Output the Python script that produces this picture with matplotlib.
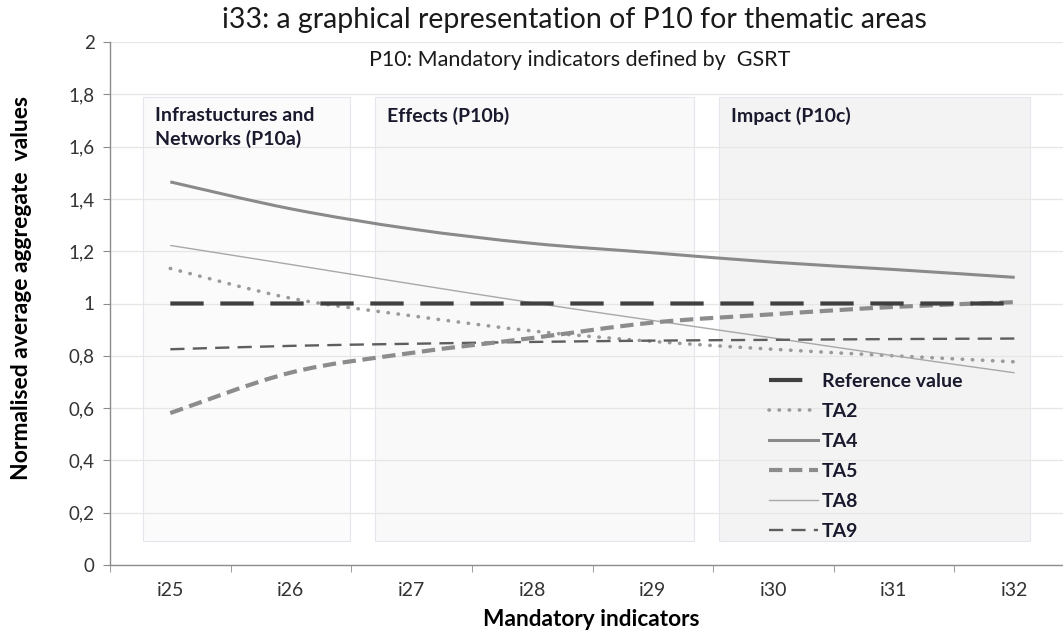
import matplotlib
matplotlib.use("Agg")
import matplotlib.pyplot as plt
from matplotlib.patches import Rectangle, PathPatch
from matplotlib.path import Path
from matplotlib.lines import Line2D
from matplotlib.ticker import FixedLocator, FuncFormatter

plt.rcParams['font.family'] = ['Lato', 'DejaVu Sans']

# ---------------- data ----------------
categories = ["i25", "i26", "i27", "i28", "i29", "i30", "i31", "i32"]
reference = [1.0, 1.0, 1.0, 1.0, 1.0, 1.0, 1.0, 1.0]
ta2 = [1.134, 1.02, 0.953, 0.895, 0.855, 0.825, 0.80, 0.777]
ta4 = [1.465, 1.362, 1.285, 1.230, 1.194, 1.158, 1.13, 1.10]
ta5 = [0.581, 0.736, 0.811, 0.868, 0.927, 0.959, 0.987, 1.005]
ta8 = [1.222, 1.149, 1.075, 1.003, 0.935, 0.868, 0.80, 0.735]
ta9 = [0.825, 0.838, 0.846, 0.853, 0.858, 0.861, 0.864, 0.866]
series_names = ["Reference value", "TA2", "TA4", "TA5", "TA8", "TA9"]
y_ticks = [0, 0.2, 0.4, 0.6, 0.8, 1.0, 1.2, 1.4, 1.6, 1.8, 2.0]

area_labels = ["Infrastuctures and\nNetworks (P10a)", "Effects (P10b)", "Impact (P10c)"]
area_spans = [(-0.228, 1.49), (1.70, 4.34), (4.55, 7.13)]
area_y = (0.092, 1.79)

W, H = 1063, 634
fig = plt.figure(figsize=(W / 100, H / 100), dpi=100)
ax = fig.add_axes([110 / W, 1 - 565 / H, 965 / W, 523 / H])

x = list(range(len(categories)))

# shaded thematic areas
fills = ["#fbfbfb", "#f9f9f9", "#f3f3f3"]
for (x0, x1), fc in zip(area_spans, fills):
    ax.add_patch(Rectangle((x0, area_y[0]), x1 - x0, area_y[1] - area_y[0],
                           facecolor=fc, edgecolor="#e3e6ec", lw=0.8, zorder=1))

for (x0, x1), lab in zip(area_spans, area_labels):
    ax.text(x0 + 0.1, 1.752, lab, fontsize=14, fontweight='bold', color="#1a1a2e",
            va='top', ha='left', linespacing=1.42, zorder=3)


def smooth_path(xs, ys):
    """Excel-style smoothed line: cubic Bezier through every data point."""
    pts = list(zip(xs, ys))
    n = len(pts)
    verts = [pts[0]]
    codes = [Path.MOVETO]
    for i in range(n - 1):
        p0 = pts[i - 1] if i > 0 else pts[i]
        p1 = pts[i]
        p2 = pts[i + 1]
        p3 = pts[i + 2] if i + 2 < n else pts[i + 1]
        c1 = (p1[0] + (p2[0] - p0[0]) / 6.0, p1[1] + (p2[1] - p0[1]) / 6.0)
        c2 = (p2[0] - (p3[0] - p1[0]) / 6.0, p2[1] - (p3[1] - p1[1]) / 6.0)
        verts += [c1, c2, p2]
        codes += [Path.CURVE4] * 3
    return Path(verts, codes)


styles = [
    dict(color="#404040", lw=3.0, ls=(0, (8, 4)), z=2.4),
    dict(color="#9a9a9a", lw=2.6, ls=(0, (0.1, 2.7)), z=2.2, cap='round'),
    dict(color="#8a8a8a", lw=2.2, ls='-', z=2.2),
    dict(color="#8c8c8c", lw=3.0, ls=(0, (3.2, 1.6)), z=2.3),
    dict(color="#a8a8a8", lw=1.0, ls='-', z=2.2),
    dict(color="#5e5e5e", lw=1.7, ls=(0, (6, 3.5)), z=2.2),
]
all_series = [reference, ta2, ta4, ta5, ta8, ta9]

handles = []
for ys, st, name in zip(all_series, styles, series_names):
    patch = PathPatch(smooth_path(x, ys), fill=False, edgecolor=st['color'], lw=st['lw'],
                      linestyle=st['ls'], zorder=st['z'], capstyle=st.get('cap', 'butt'))
    ax.add_patch(patch)
    h = Line2D([], [], color=st['color'], lw=st['lw'], ls=st['ls'], label=name)
    if 'cap' in st:
        h.set_dash_capstyle(st['cap'])
    handles.append(h)

ax.set_xlim(-0.5, len(categories) - 0.5)
ax.set_ylim(0, 2)

# axes styling
for s in ['top', 'right']:
    ax.spines[s].set_visible(False)
for s in ['left', 'bottom']:
    ax.spines[s].set_color("#8c8c8c")
    ax.spines[s].set_linewidth(1.0)

ax.yaxis.set_major_locator(FixedLocator(y_ticks))
ax.yaxis.set_major_formatter(FuncFormatter(lambda v, p: ("%g" % round(v, 1)).replace('.', ',')))
ax.set_xticks(x)
ax.set_xticklabels(categories)
ax.xaxis.set_minor_locator(FixedLocator([i - 0.5 for i in range(len(categories) + 1)]))
ax.tick_params(axis='x', which='major', length=0, pad=12, labelsize=14, labelcolor="#333333")
ax.tick_params(axis='x', which='minor', length=5, color="#8c8c8c", direction='out')
ax.tick_params(axis='y', which='major', length=5, color="#8c8c8c", direction='out',
               pad=6, labelsize=13.5, labelcolor="#333333")

ax.set_axisbelow('line')
ax.yaxis.grid(True, color="#e6e6e6", lw=0.9)
ax.xaxis.grid(False)
for gl in ax.yaxis.get_gridlines():
    gl.set_zorder(1.5)

# texts
fig.text(574 / W, 1 - 28 / H, "i33: a graphical representation of P10 for thematic areas",
         ha='center', va='baseline', fontsize=20.5, color="#1a1a1a")
fig.text(580 / W, 1 - 66.5 / H, "P10: Mandatory indicators defined by  GSRT",
         ha='center', va='baseline', fontsize=15.5, color="#1a1a1a")
fig.text(22 / W, 1 - 288 / H, "Normalised average aggregate  values", rotation=90,
         ha='center', va='center', fontsize=16.5, fontweight='bold', color="#000000")
fig.text(591 / W, 1 - 620 / H, "Mandatory indicators",
         ha='center', va='center', fontsize=16.3, fontweight='bold', color="#000000")

leg = ax.legend(handles=handles, loc='upper left', bbox_to_anchor=(769 / W, 1 - 373 / H),
                bbox_transform=fig.transFigure, frameon=False, fontsize=14,
                handlelength=2.5, handletextpad=0.2, labelspacing=0.67,
                borderpad=0, borderaxespad=0)
for t in leg.get_texts():
    t.set_fontweight('bold')
    t.set_color("#1a1a2e")

fig.savefig("out.png", dpi=100)
